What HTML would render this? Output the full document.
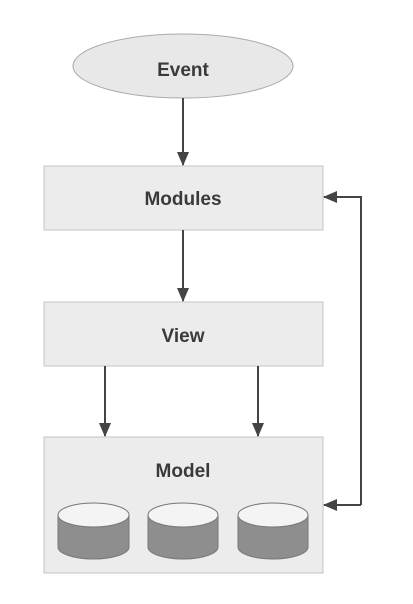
<!DOCTYPE html>
<html><head><style>body{margin:0;background:#fff}svg{display:block}</style></head><body>
<svg width="413" height="604" xmlns="http://www.w3.org/2000/svg" font-family="Liberation Sans, sans-serif">
<defs><marker id="a" markerWidth="14" markerHeight="12" refX="13" refY="6" orient="auto" markerUnits="userSpaceOnUse"><path d="M0,0 L14,6 L0,12 z" fill="#444"/></marker></defs>
<ellipse cx="183" cy="66" rx="110" ry="32" fill="#e8e8e8" stroke="#aaa"/>
<text x="183" y="76" text-anchor="middle" font-size="19" font-weight="bold" fill="#3a3a3a">Event</text>
<rect x="44" y="166" width="279" height="64" fill="#ececec" stroke="#c4c4c4"/>
<text x="183" y="205" text-anchor="middle" font-size="19" font-weight="bold" fill="#3a3a3a">Modules</text>
<rect x="44" y="302" width="279" height="64" fill="#ececec" stroke="#c4c4c4"/>
<text x="183" y="342" text-anchor="middle" font-size="19" font-weight="bold" fill="#3a3a3a">View</text>
<rect x="44" y="437" width="279" height="136" fill="#ececec" stroke="#c4c4c4"/>
<text x="183" y="477" text-anchor="middle" font-size="19" font-weight="bold" fill="#3a3a3a">Model</text>
<g stroke="#444" stroke-width="2" fill="none" marker-end="url(#a)">
<line x1="183" y1="98" x2="183" y2="165"/>
<line x1="183" y1="230" x2="183" y2="301"/>
<line x1="105" y1="366" x2="105" y2="436"/>
<line x1="258" y1="366" x2="258" y2="436"/>
<polyline points="361,505 361,197 324,197"/>
<polyline points="361,505 324,505"/>
</g>
<g stroke="#777" stroke-width="1">
<path d="M58,515 v32 a35.5,12 0 0 0 71,0 v-32" fill="#8e8e8e"/><ellipse cx="93.5" cy="515" rx="35.5" ry="12" fill="#f4f4f4"/>
<path d="M148,515 v32 a35,12 0 0 0 70,0 v-32" fill="#8e8e8e"/><ellipse cx="183" cy="515" rx="35" ry="12" fill="#f4f4f4"/>
<path d="M238,515 v32 a35,12 0 0 0 70,0 v-32" fill="#8e8e8e"/><ellipse cx="273" cy="515" rx="35" ry="12" fill="#f4f4f4"/>
</g>
</svg>
</body></html>
